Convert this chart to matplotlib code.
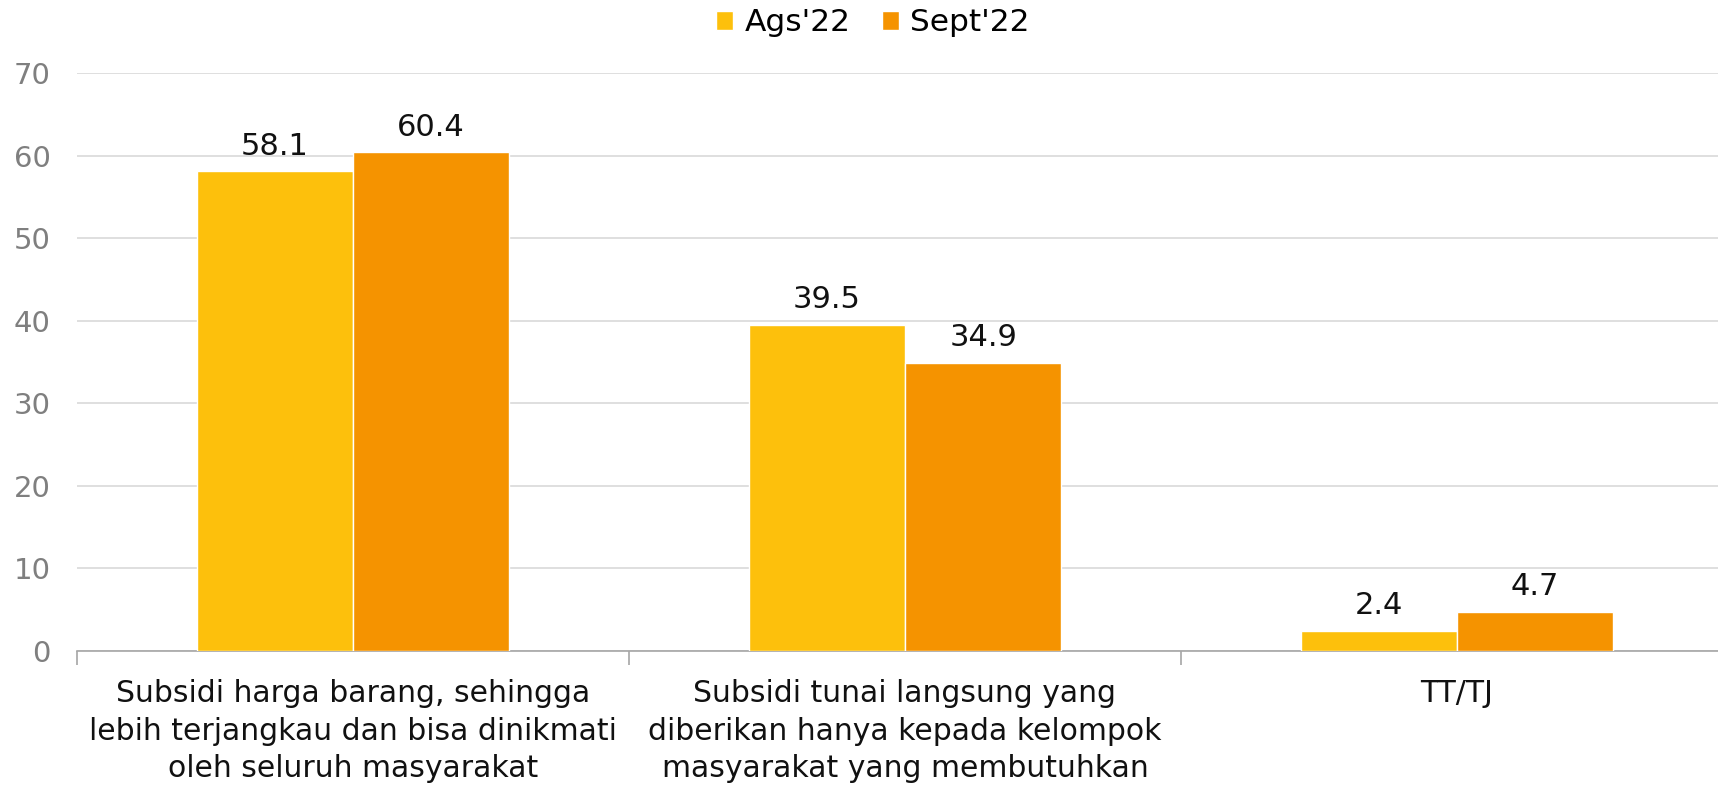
import numpy as np
import matplotlib.pyplot as plt

plt.rcParams['font.family'] = ['DejaVu Sans']

categories = ["Subsidi harga barang, sehingga\nlebih terjangkau dan bisa dinikmati\noleh seluruh masyarakat",
              "Subsidi tunai langsung yang\ndiberikan hanya kepada kelompok\nmasyarakat yang membutuhkan",
              "TT/TJ"]
ags = [58.1, 39.5, 2.4]
sept = [60.4, 34.9, 4.7]
series_names = ["Ags'22", "Sept'22"]
colors = ["#FDC00C", "#F59300"]

fig = plt.figure(figsize=(17.18, 7.87), dpi=100)
ax = fig.add_axes([0.0448, 0.1728, 0.9639, 0.7342])

x = np.arange(len(categories))
w = 0.283
b1 = ax.bar(x - w / 2, ags, w, color=colors[0], edgecolor="white", linewidth=1, label=series_names[0], zorder=3)
b2 = ax.bar(x + w / 2, sept, w, color=colors[1], edgecolor="white", linewidth=1, label=series_names[1], zorder=3)

# nilai di atas batang
for bars, vals in [(b1, ags), (b2, sept)]:
    for r, v in zip(bars, vals):
        ax.text(r.get_x() + r.get_width() / 2, v + 1.3, f"{v:.1f}", ha="center", va="bottom",
                fontsize=22, color="#111111")

ax.set_xlim(-0.5, 2.5)
ax.set_ylim(0, 70)
ax.set_yticks(range(0, 71, 10))
ax.grid(axis="y", color="#D9D9D9", linewidth=1.2, zorder=0)
ax.set_axisbelow(True)

ax.set_xticks(x)
ax.set_xticklabels(categories, fontsize=21.5, color="#111111", linespacing=1.38)
ax.tick_params(axis="x", which="major", length=0, pad=20)
ax.set_xticks([-0.5, 0.5, 1.5, 2.5], minor=True)
ax.tick_params(axis="x", which="minor", length=10, color="#A6A6A6", width=1.2)
ax.tick_params(axis="y", length=0, labelsize=21, labelcolor="#7F7F7F", pad=19)

for s in ["top", "right", "left"]:
    ax.spines[s].set_visible(False)
ax.spines["bottom"].set_color("#A6A6A6")
ax.spines["bottom"].set_linewidth(1.2)

fig.legend(loc="upper center", bbox_to_anchor=(0.508, 1.025), ncol=2, frameon=False, fontsize=22.5,
           handlelength=0.55, handleheight=0.55, handletextpad=0.35, columnspacing=1.0)

fig.savefig("out.png", dpi=100)
